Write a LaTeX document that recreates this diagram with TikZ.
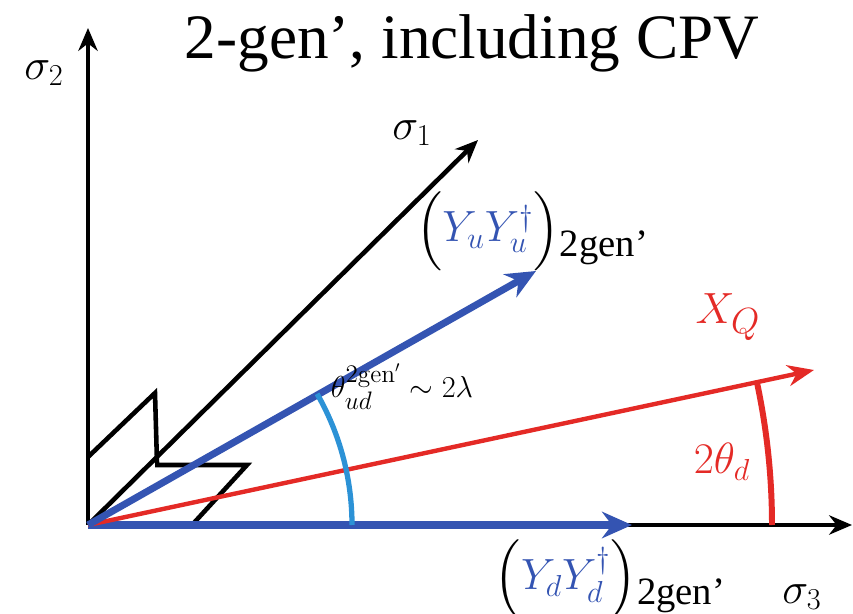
\documentclass[tikz,border=0pt]{standalone}
\usepackage[no-math]{fontspec}
\setmainfont{Liberation Serif}
\usepackage{amsmath,amssymb}
\usepackage{xcolor}
\usepackage{tikz}
\usetikzlibrary{arrows.meta}
\definecolor{ublue}{RGB}{52,84,178}
\definecolor{qred}{RGB}{228,42,38}
\definecolor{arcblue}{RGB}{44,146,214}
\begin{document}
\begin{tikzpicture}[x=0.02cm,y=0.02cm,
  axis/.style={line width=2.6pt,-{Stealth[length=13pt,width=11pt]}},
  vecb/.style={draw=ublue,line width=4pt,-{Stealth[length=17pt,width=15pt]}},
  vecr/.style={draw=qred,line width=2.5pt,-{Stealth[length=15pt,width=12pt]}},
  lbl/.style={inner sep=0pt,font=\fontsize{25}{28}\selectfont},
  ylbl/.style={inner sep=0pt,font=\fontsize{25}{30}\selectfont}]
\useasboundingbox (0,0) rectangle (853,613);
\coordinate (O) at (88,88);
\coordinate (s1) at (478,473);
\coordinate (s2) at (88,585);
\coordinate (s3) at (852,88);
\coordinate (yu) at (536,342);
\coordinate (xq) at (814,243);
\coordinate (yd) at (632,88);
% axes
\draw[axis] (O)--(s2);
\draw[axis] (O)--(s1);
\draw[axis] (O)--(s3);
% little corner marks
\draw[line width=2.6pt,line join=miter] (88,156)--(155,220)--(157,150);
\draw[line width=2.6pt,line join=miter] (155,148)--(247,148)--(192,88);
% vectors
\draw[vecb] (O)--(yd);
\draw[vecr] (O)--(xq);
\draw[vecb] (O)--(yu);
% angles
\draw[arcblue,line width=3pt] ([shift={(0:264)}]O) arc (0:29.8:264);
\draw[qred,line width=3.4pt] ([shift={(0:684)}]O) arc (0:12.2:684);
% labels
\node[font=\fontsize{36}{40}\selectfont] (title) at (472,570) {2-gen', including CPV};
\node[lbl] (l2) at (44,540) {$\sigma_2$};
\node[lbl] (l1) at (412,480) {$\sigma_1$};
\node[lbl] (l3) at (802,16) {$\sigma_3$};
\node[ylbl] (lu) at (532,382)
  {$\Bigl(\textcolor{ublue}{Y_uY_u^\dagger}\Bigr)$\raisebox{-0.7ex}{\fontsize{22}{26}\selectfont 2gen'}};
\node[ylbl] (ld) at (610,34)
  {$\Bigl(\textcolor{ublue}{Y_dY_d^\dagger}\Bigr)$\raisebox{-0.7ex}{\fontsize{22}{26}\selectfont 2gen'}};
\node[font=\fontsize{30}{34}\selectfont,text=qred,inner sep=0pt] (lq) at (728,296) {$X_Q$};
\node[font=\fontsize{27}{30}\selectfont,text=qred,inner sep=0pt] (ltd) at (722,151) {$2\theta_d$};
\node[font=\fontsize{19}{22}\selectfont,inner sep=0pt] (lth) at (402,226) {$\theta_{ud}^{2\mathrm{gen}'}\sim2\lambda$};
\end{tikzpicture}
\end{document}
